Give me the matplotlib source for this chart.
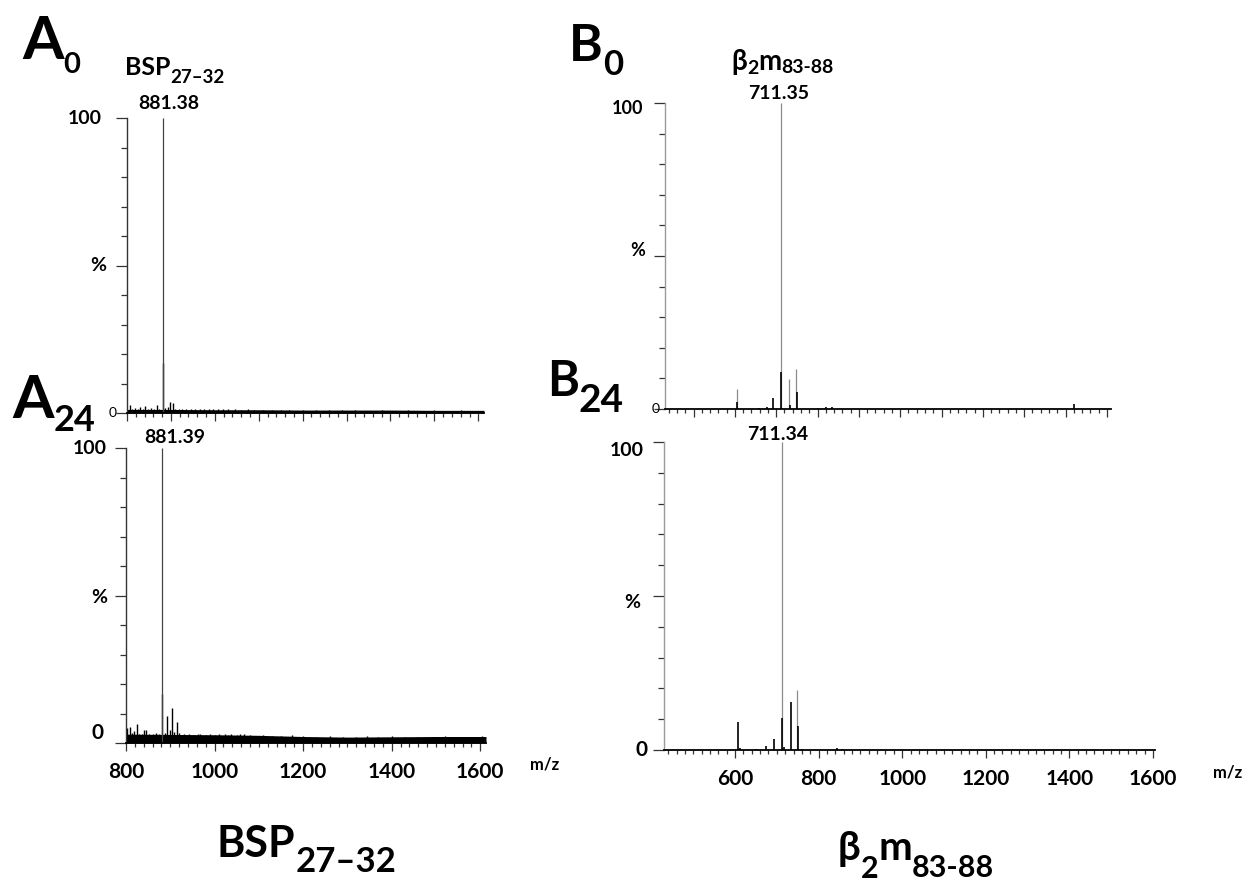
import matplotlib
matplotlib.use("Agg")
import matplotlib.pyplot as plt
from matplotlib.ticker import MultipleLocator

plt.rcParams['font.family'] = ['Lato', 'DejaVu Sans']

W, H = 1250, 883

# ---- spectra: m/z and relative intensity (%) ----
# A0: BSP 27-32, t = 0
a0_main = [881.38]
a0_main_int = [100]
a0_mz = [807, 812, 818, 824, 830, 836, 842, 848, 854, 861, 868, 873, 882.4, 886, 893, 898,
         904, 910, 918, 926, 935, 945, 955, 966, 975, 986, 995, 1008, 1018, 1030, 1045, 1060,
         1075, 1090, 1110, 1130, 1150, 1170, 1200, 1230, 1260, 1290, 1320, 1350, 1380, 1410,
         1440, 1470, 1500, 1530, 1560, 1590]
a0_int = [2.8, 1.5, 1.8, 1.3, 2.2, 1.2, 2.5, 1.4, 1.8, 1.3, 2.8, 1.5, 17, 1.8, 2.0, 3.8,
          3.5, 1.5, 1.4, 1.3, 1.4, 1.5, 1.2, 1.5, 1.3, 1.4, 1.3, 1.5, 1.2, 1.3, 1.2, 1.1,
          1.2, 1.0, 1.1, 1.0, 1.0, 1.1, 0.9, 1.0, 0.9, 1.0, 0.9, 0.8, 0.9, 0.8,
          0.9, 0.8, 0.9, 0.8, 0.9, 0.8]
a0_band_mz = [800, 900, 1000, 1100, 1200, 1300, 1400, 1500, 1613]
a0_band = [1.2, 1.2, 1.1, 1.1, 1.0, 1.0, 1.0, 0.9, 0.9]

# A24: BSP 27-32, t = 24 h
a24_main = [881.39]
a24_main_int = [100]
a24_mz = [803, 809, 813, 818, 824, 830, 836, 841, 845, 852, 860, 868, 874, 882.4, 888, 893,
          900, 903, 908, 916, 920, 930, 943, 952, 962, 968, 980, 990, 1000, 1010, 1023, 1030,
          1038, 1050, 1058, 1066, 1080, 1093, 1110, 1130, 1150, 1175, 1200, 1230, 1260, 1290,
          1320, 1345, 1370, 1400, 1430, 1460, 1490, 1520, 1550, 1580, 1605]
a24_int = [5.2, 5.4, 3.5, 4.0, 6.5, 3.2, 3.0, 4.5, 4.3, 3.0, 3.0, 3.5, 3.2, 16.7, 3.5, 9.0,
           4.5, 12.0, 3.8, 7.0, 3.5, 3.0, 3.0, 2.8, 3.0, 3.2, 2.8, 2.9, 2.7, 3.0, 3.0, 2.8,
           3.0, 2.7, 3.0, 3.0, 2.6, 2.5, 2.6, 2.4, 2.5, 2.6, 2.3, 2.2, 2.3, 2.2,
           2.1, 2.3, 2.2, 2.3, 2.1, 2.2, 2.2, 2.3, 2.2, 2.2, 2.3]
a24_band_mz = [800, 900, 1000, 1100, 1200, 1300, 1400, 1500, 1613]
a24_band = [3.0, 2.9, 2.8, 2.6, 2.2, 2.0, 2.1, 2.2, 2.2]

# B0: beta2m 83-88, t = 0
b0_gray_mz = [604, 711.35, 732, 748]
b0_gray_int = [6.5, 100, 9.8, 13.0]
b0_mz = [606, 658, 678, 693, 712.4, 733, 749.5, 800, 820, 835, 1421]
b0_int = [2.4, 0.4, 0.7, 3.5, 12.2, 1.2, 5.5, 0.2, 0.5, 0.8, 1.5]

# B24: beta2m 83-88, t = 24 h
b24_gray_mz = [711.34, 748]
b24_gray_int = [100, 19.5]
b24_mz = [606, 612, 650, 675, 693, 712.4, 716, 733, 749.5, 760, 845, 855]
b24_int = [9.2, 0.5, 0.4, 1.2, 3.6, 10.3, 1.0, 15.5, 7.8, 0.4, 0.5, 0.3]

b_xticks = [600, 800, 1000, 1200, 1400, 1600]
a_xticks = [800, 1000, 1200, 1400, 1600]

fig = plt.figure(figsize=(W / 100, H / 100), dpi=100)
r = fig.canvas.get_renderer()


def px_rect(l, rgt, top, bot):
    return [l / W, 1 - bot / H, (rgt - l) / W, (bot - top) / H]


def setup(ax, xlim, spine_col):
    ax.set_xlim(*xlim)
    ax.set_ylim(0, 100)
    for s in ['top', 'right']:
        ax.spines[s].set_visible(False)
    ax.spines['left'].set_color(spine_col)
    ax.spines['left'].set_linewidth(1.0)
    ax.spines['bottom'].set_color('black')
    ax.spines['bottom'].set_linewidth(1.3)
    ax.set_yticks([0, 50, 100])
    ax.set_yticklabels([])
    ax.yaxis.set_minor_locator(MultipleLocator(10))
    ax.xaxis.set_major_locator(MultipleLocator(100))
    ax.xaxis.set_minor_locator(MultipleLocator(20))
    ax.tick_params(axis='y', which='major', length=8, width=0.9, color='#333333')
    ax.tick_params(axis='y', which='minor', length=4, width=0.9, color='#333333')
    ax.tick_params(axis='x', which='major', length=6, width=0.9, color='#333333')
    ax.tick_params(axis='x', which='minor', length=3, width=0.9, color='#333333')
    ax.set_xticklabels([])


def ylabels(ax, specs):
    for txt, yv, dx, dy, size, weight in specs:
        ax.annotate(txt, xy=(0, yv), xycoords=('axes fraction', 'data'),
                    xytext=(dx, dy), textcoords='offset pixels',
                    ha='right', va='center', fontsize=size, fontweight=weight,
                    annotation_clip=False)


def xlabels(ax, ticks):
    ax.set_xticks(ticks)
    ax.set_xticklabels([str(t) for t in ticks], fontsize=15, fontweight='bold')
    ax.tick_params(axis='x', which='major', pad=8)


def peak_label(ax, mz, txt, dx, dy):
    ax.annotate(txt, xy=(mz, 100), xycoords='data', xytext=(dx, dy),
                textcoords='offset pixels', ha='center', va='baseline',
                fontsize=14, fontweight='bold', annotation_clip=False)


def multi_text(x, y, parts):
    # parts: (text, fontsize, drop in px below the base line)
    for s, size, drop in parts:
        t = fig.text(x / W, 1 - (y + drop) / H, s, fontsize=size,
                     fontweight='bold', ha='left', va='baseline')
        x = t.get_window_extent(r).x1


# ---- A0 ----
ax = fig.add_axes(px_rect(127, 484, 118, 413))
setup(ax, (800, 1613), '#333333')
ax.fill_between(a0_band_mz, 0, a0_band, color='black', lw=0)
ax.vlines(a0_mz, 0, a0_int, color='black', lw=1.0)
ax.vlines(a0_main, 0, a0_main_int, color='#444444', lw=0.9)
ylabels(ax, [('100', 100, -25, 0, 14, 'bold'), ('%', 50, -21, 0, 14, 'bold'),
             ('0', 0, -10, 0, 10, 'normal')])
peak_label(ax, a0_main[0], '881.38', 6, 9)

# ---- A24 ----
ax = fig.add_axes(px_rect(126, 486, 448, 743))
setup(ax, (800, 1613), '#333333')
ax.fill_between(a24_band_mz, 0, a24_band, color='black', lw=0)
ax.vlines(a24_mz, 0, a24_int, color='black', lw=1.0)
ax.vlines(a24_main, 0, a24_main_int, color='#444444', lw=0.9)
ylabels(ax, [('100', 100, -19, 0, 14, 'bold'), ('%', 50, -19, -2, 14, 'bold'),
             ('0', 0, -23, 10, 15, 'bold')])
xlabels(ax, a_xticks)
peak_label(ax, a24_main[0], '881.39', 13, 5)

# ---- B0 ----
ax = fig.add_axes(px_rect(665, 1111, 103, 409))
setup(ax, (431, 1510), '#9a9a9a')
ax.vlines(b0_gray_mz, 0, b0_gray_int, color='#8c8c8c', lw=0.9)
ax.vlines(b0_mz, 0, b0_int, color='black', lw=1.2)
ylabels(ax, [('100', 100, -22, -6, 13, 'bold'), ('%', 50, -20, 6, 13, 'bold'),
             ('0', 0, -5, 0, 10, 'normal')])
peak_label(ax, b0_gray_mz[1], '711.35', -2, 4)

# ---- B24 ----
ax = fig.add_axes(px_rect(664, 1155, 442, 750))
setup(ax, (430, 1605), '#9a9a9a')
ax.vlines(b24_gray_mz, 0, b24_gray_int, color='#8c8c8c', lw=0.9)
ax.vlines(b24_mz, 0, b24_int, color='black', lw=1.2)
ylabels(ax, [('100', 100, -20, -8, 14, 'bold'), ('%', 50, -24, -6, 14, 'bold'),
             ('0', 0, -16, 0, 15, 'bold')])
xlabels(ax, b_xticks)
peak_label(ax, b24_gray_mz[0], '711.34', -4, 2)

# ---- panel letters and peptide names ----
multi_text(22, 59, [('A', 43, 0), ('0', 21, 14)])
multi_text(12, 418, [('A', 43, 0), ('24', 26, 13)])
multi_text(569, 61, [('B', 37, 0), ('0', 25, 14)])
multi_text(547, 396, [('B', 35, 0), ('24', 28, 16)])

multi_text(125, 75, [('BSP', 18, 0), ('27\u201332', 13.5, 8)])
multi_text(731, 70, [('\u03b2', 20, 0), ('2', 14, 4), ('m', 20, 0), ('83-88', 14, 3)])

multi_text(217, 857, [('BSP', 31, 0), ('27\u201332', 25, 15)])
multi_text(838, 860, [('\u03b2', 29, 0), ('2', 22, 18), ('m', 29, 0), ('83-88', 22, 17)])

fig.text(530 / W, 1 - 770 / H, 'm/z', fontsize=12, fontweight='bold', ha='left', va='baseline')
fig.text(1213 / W, 1 - 778 / H, 'm/z', fontsize=12, fontweight='bold', ha='left', va='baseline')

fig.savefig('out.png', dpi=100)
